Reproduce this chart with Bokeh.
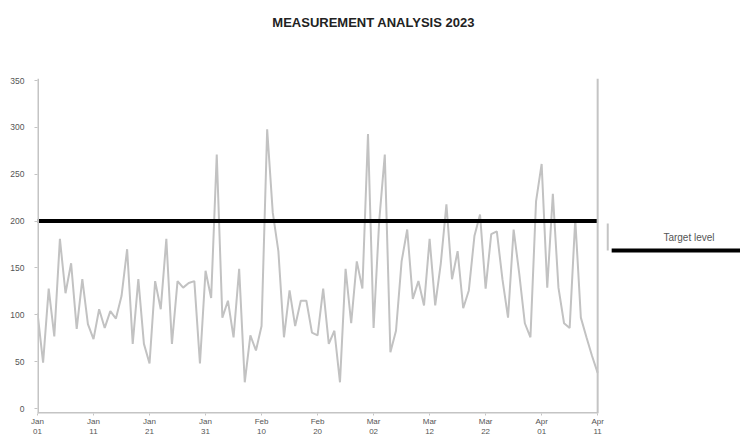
from bokeh.plotting import figure
from bokeh.models import Range1d, FixedTicker
from bokeh.core.properties import value
from bokeh.embed import file_html
from bokeh.resources import INLINE

# ---- data ----
day_index = list(range(101))
values = [102, 49, 128, 77, 181, 123, 155, 85, 138, 90,
          74, 106, 86, 104, 96, 120, 170, 69, 138, 69,
          48, 136, 106, 181, 69, 136, 129, 134, 136, 48,
          147, 118, 271, 97, 115, 76, 149, 28, 78, 62,
          88, 298, 209, 168, 76, 126, 88, 115, 115, 81,
          78, 128, 69, 83, 28, 149, 91, 157, 128, 293,
          86, 200, 271, 60, 83, 157, 191, 117, 136, 110,
          181, 110, 155, 218, 138, 168, 107, 126, 184, 207,
          128, 186, 189, 138, 97, 191, 144, 91, 76, 221,
          261, 129, 229, 129, 91, 86, 202, 97, 76, 56, 38]
target_level = 200
y_ticks = [0, 50, 100, 150, 200, 250, 300, 350]
x_tick_positions = [0, 10, 20, 30, 40, 50, 60, 70, 80, 90, 100]
x_tick_labels = ["Jan\n01", "Jan\n11", "Jan\n21", "Jan\n31", "Feb\n10", "Feb\n20",
                 "Mar\n02", "Mar\n12", "Mar\n22", "Apr\n01", "Apr\n11"]
title_text = "MEASUREMENT ANALYSIS 2023"
legend_label = "Target level"

# ---- style / layout constants ----
AXIS_GRAY = "#c4c4c4"
TEXT_GRAY = "#555555"
Y_START, Y_END = -5.3, 435.4    # frame reaches up to the top of the canvas
AXIS_TOP = 352                  # where the drawn axis lines stop
FRAME_PAD_RIGHT = 25.5          # extra x units beyond the last day for the key area
TITLE_X, TITLE_Y = 60, 412
KEY_MARK_X = 101.8
KEY_LINE_X0 = 102.5
KEY_LABEL_X = 116.3
KEY_LINE_Y = 168.6
KEY_MARK_Y1 = 197.4
KEY_LABEL_Y = 182.5

x_end = day_index[-1] + FRAME_PAD_RIGHT

p = figure(width=740, height=441, output_backend="svg", toolbar_location=None,
           x_range=Range1d(day_index[0], x_end), y_range=Range1d(Y_START, Y_END),
           min_border_left=37, min_border_right=0, min_border_top=0, min_border_bottom=28)
p.outline_line_color = None
p.xgrid.visible = False
p.ygrid.visible = False
p.background_fill_color = "white"
p.border_fill_color = "white"

# title
p.text(x=[TITLE_X], y=[TITLE_Y], text=[title_text],
       text_font=value("Liberation Sans"), text_font_size="13px", text_font_style="bold",
       text_color="#222222", text_align="center", text_baseline="middle")

# series line
p.line(day_index, values, line_color="#c2c2c2", line_width=2)
# target level line
p.line([day_index[0], day_index[-1]], [target_level, target_level],
       line_color="black", line_width=4)

# axis lines limited to the data area
p.segment(x0=[day_index[0]], x1=[day_index[-1]], y0=[Y_START], y1=[Y_START],
          line_color=AXIS_GRAY, line_width=3)
p.segment(x0=[day_index[0]], x1=[day_index[0]], y0=[Y_START], y1=[AXIS_TOP],
          line_color=AXIS_GRAY, line_width=3)
p.segment(x0=[day_index[-1]], x1=[day_index[-1]], y0=[Y_START], y1=[AXIS_TOP],
          line_color=AXIS_GRAY, line_width=2)

# key (drawn to the right of the data area)
p.segment(x0=[KEY_MARK_X], x1=[KEY_MARK_X], y0=[KEY_LINE_Y], y1=[KEY_MARK_Y1],
          line_color=AXIS_GRAY, line_width=2)
p.segment(x0=[KEY_LINE_X0], x1=[x_end], y0=[KEY_LINE_Y], y1=[KEY_LINE_Y],
          line_color="black", line_width=4)
p.text(x=[KEY_LABEL_X], y=[KEY_LABEL_Y], text=[legend_label],
       text_font=value("Liberation Sans"), text_font_size="10px", text_color=TEXT_GRAY,
       text_align="center", text_baseline="middle")

# axes
for ax in (p.xaxis[0], p.yaxis[0]):
    ax.axis_line_color = None
    ax.major_tick_line_color = AXIS_GRAY
    ax.minor_tick_line_color = None
    ax.major_label_text_color = TEXT_GRAY
    ax.major_label_text_font = "Liberation Sans"

p.yaxis[0].ticker = FixedTicker(ticks=y_ticks)
p.yaxis[0].major_label_text_font_size = "8.5px"
p.yaxis[0].major_tick_out = 3
p.yaxis[0].major_tick_in = 0
p.yaxis[0].major_label_standoff = 10

p.xaxis[0].ticker = FixedTicker(ticks=x_tick_positions)
p.xaxis[0].major_label_overrides = {pos: lab for pos, lab in zip(x_tick_positions, x_tick_labels)}
p.xaxis[0].major_label_text_font_size = "8px"
p.xaxis[0].major_tick_out = 2
p.xaxis[0].major_tick_in = 0
p.xaxis[0].major_label_standoff = 1

open("out.html", "w").write(file_html(p, INLINE))
